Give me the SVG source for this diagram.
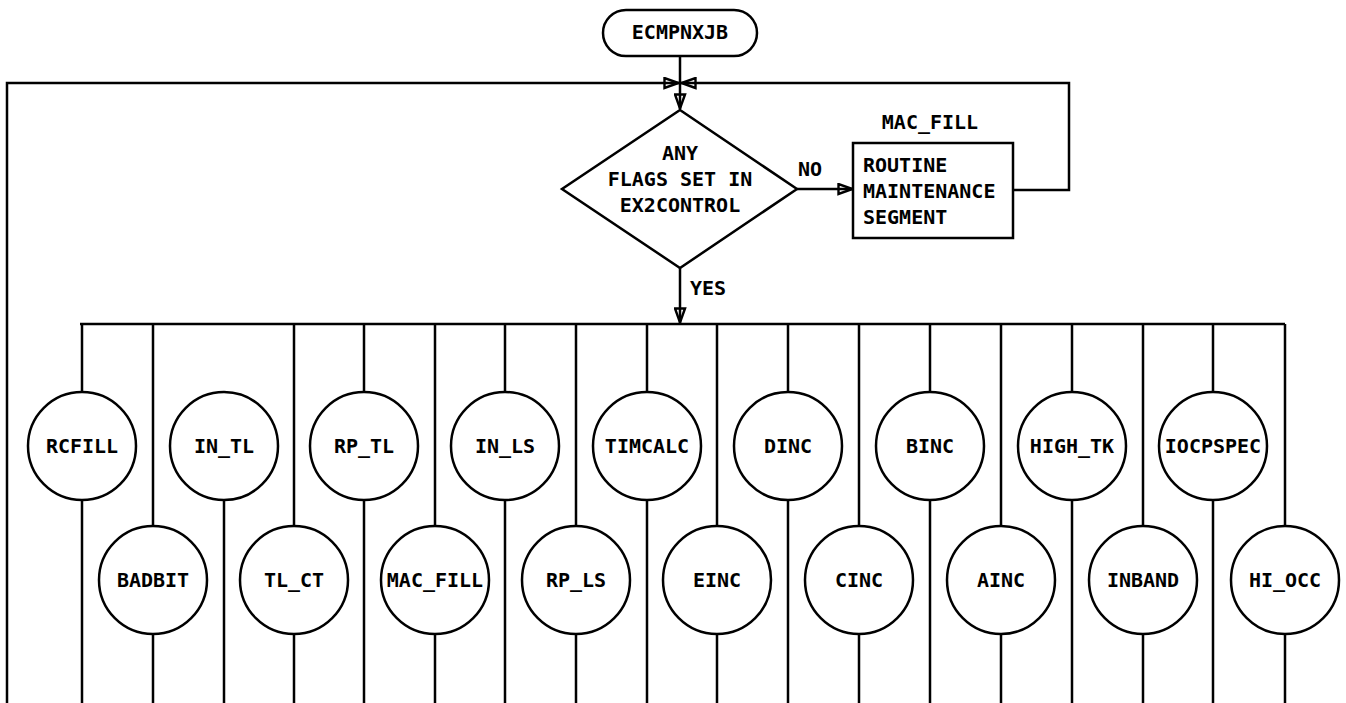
<svg xmlns="http://www.w3.org/2000/svg" width="1346" height="703" viewBox="0 0 1346 703">
<style>
.ln{fill:none;stroke:#000;stroke-width:2.5}
.sh{fill:#fff;stroke:#000;stroke-width:2.5}
.t{font-family:"DejaVu Sans Mono","Liberation Mono",monospace;font-weight:bold;font-size:20px;fill:#000}
.c{text-anchor:middle}
</style>
<defs>
<marker id="ah" viewBox="0 0 17 13" refX="16" refY="6.5" markerWidth="17" markerHeight="13" markerUnits="userSpaceOnUse" orient="auto">
<path d="M1.5,1.5 L15.5,6.5 L1.5,11.5 Z" fill="none" stroke="#000" stroke-width="2.4" stroke-linejoin="miter"/>
</marker>
</defs>
<rect width="1346" height="703" fill="#fff"/>

<g id="connectors">
<line class="ln" x1="680" y1="56" x2="680" y2="109" marker-end="url(#ah)"/>
<path class="ln" d="M7,703 L7,83 L679,83" marker-end="url(#ah)"/>
<path class="ln" d="M1013,190 L1069,190 L1069,83 L681,83" marker-end="url(#ah)"/>
<line class="ln" x1="797" y1="189" x2="853" y2="189" marker-end="url(#ah)"/>
<line class="ln" x1="680" y1="268" x2="680" y2="323" marker-end="url(#ah)"/>
<line class="ln" x1="80" y1="324" x2="1285" y2="324"/>
<!-- top row stubs (bus to circle, circle to bottom) -->
<path class="ln" d="M82,324V392 M82,500V703
 M224,500V703
 M364,324V392 M364,500V703
 M505,324V392 M505,500V703
 M647,324V392 M647,500V703
 M788,324V392 M788,500V703
 M930,324V392 M930,500V703
 M1072,324V392 M1072,500V703
 M1213,324V392 M1213,500V703"/>
<!-- bottom row stubs -->
<path class="ln" d="M153,324V526 M153,634V703
 M294,324V526 M294,634V703
 M435,324V526 M435,634V703
 M576,324V526 M576,634V703
 M717,324V526 M717,634V703
 M859,324V526 M859,634V703
 M1001,324V526 M1001,634V703
 M1143,324V526 M1143,634V703
 M1285,324V526 M1285,634V703"/>
</g>

<g id="start">
<rect class="sh" x="603" y="10" width="154" height="46" rx="23" ry="23"/>
<text class="t c" x="680" y="39">ECMPNXJB</text>
</g>

<g id="decision">
<polygon class="sh" points="680,110 797,189 680,268 562,189"/>
<text class="t c" x="680" y="160">ANY</text>
<text class="t c" x="680" y="186">FLAGS SET IN</text>
<text class="t c" x="680" y="212">EX2CONTROL</text>
</g>
<text id="lbl-no" class="t c" x="810" y="176">NO</text>
<text id="lbl-yes" class="t" x="690" y="295">YES</text>

<g id="mac_fill_box">
<text class="t c" x="930" y="129">MAC_FILL</text>
<rect class="sh" x="853" y="143" width="160" height="95"/>
<text class="t" x="863" y="172">ROUTINE</text>
<text class="t" x="863" y="198">MAINTENANCE</text>
<text class="t" x="863" y="224">SEGMENT</text>
</g>

<g id="n-rcfill"><circle class="sh" cx="82" cy="446" r="54"/><text class="t c" x="82" y="453">RCFILL</text></g>
<g id="n-badbit"><circle class="sh" cx="153" cy="580" r="54"/><text class="t c" x="153" y="587">BADBIT</text></g>
<g id="n-in_tl"><circle class="sh" cx="224" cy="446" r="54"/><text class="t c" x="224" y="453">IN_TL</text></g>
<g id="n-tl_ct"><circle class="sh" cx="294" cy="580" r="54"/><text class="t c" x="294" y="587">TL_CT</text></g>
<g id="n-rp_tl"><circle class="sh" cx="364" cy="446" r="54"/><text class="t c" x="364" y="453">RP_TL</text></g>
<g id="n-mac_fill"><circle class="sh" cx="435" cy="580" r="54"/><text class="t c" x="435" y="587">MAC_FILL</text></g>
<g id="n-in_ls"><circle class="sh" cx="505" cy="446" r="54"/><text class="t c" x="505" y="453">IN_LS</text></g>
<g id="n-rp_ls"><circle class="sh" cx="576" cy="580" r="54"/><text class="t c" x="576" y="587">RP_LS</text></g>
<g id="n-timcalc"><circle class="sh" cx="647" cy="446" r="54"/><text class="t c" x="647" y="453">TIMCALC</text></g>
<g id="n-einc"><circle class="sh" cx="717" cy="580" r="54"/><text class="t c" x="717" y="587">EINC</text></g>
<g id="n-dinc"><circle class="sh" cx="788" cy="446" r="54"/><text class="t c" x="788" y="453">DINC</text></g>
<g id="n-cinc"><circle class="sh" cx="859" cy="580" r="54"/><text class="t c" x="859" y="587">CINC</text></g>
<g id="n-binc"><circle class="sh" cx="930" cy="446" r="54"/><text class="t c" x="930" y="453">BINC</text></g>
<g id="n-ainc"><circle class="sh" cx="1001" cy="580" r="54"/><text class="t c" x="1001" y="587">AINC</text></g>
<g id="n-high_tk"><circle class="sh" cx="1072" cy="446" r="54"/><text class="t c" x="1072" y="453">HIGH_TK</text></g>
<g id="n-inband"><circle class="sh" cx="1143" cy="580" r="54"/><text class="t c" x="1143" y="587">INBAND</text></g>
<g id="n-iocpspec"><circle class="sh" cx="1213" cy="446" r="54"/><text class="t c" x="1213" y="453">IOCPSPEC</text></g>
<g id="n-hi_occ"><circle class="sh" cx="1285" cy="580" r="54"/><text class="t c" x="1285" y="587">HI_OCC</text></g>
</svg>
